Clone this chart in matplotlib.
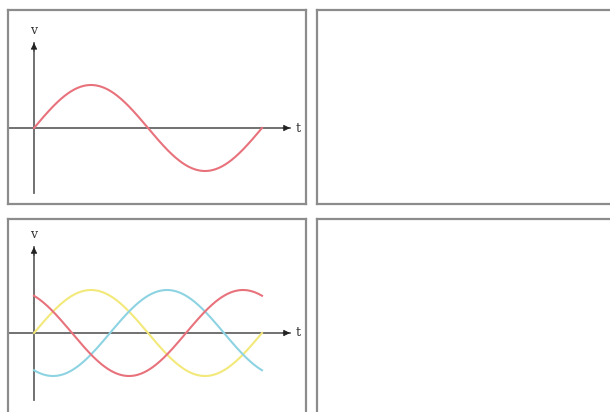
import numpy as np
import matplotlib
matplotlib.use('Agg')
from matplotlib import pyplot as plt

# one period of the waves
t = np.linspace(0, 2 * np.pi, 300)
phase_names = ["yellow", "blue", "red"]
phase_shift_deg = [0, -120, 120]
phase_colors = ['#f2e97a', '#8dd3e2', '#e8727c']
single_color = '#e8727c'

W, H = 610, 412
fig = plt.figure(figsize=(W / 100, H / 100), dpi=100)

px_per_unit_x = 228 / (2 * np.pi)
px_per_unit_y = 43.0


def box(x0, y0, x1, y1, axis_x=None, axis_y=None):
    ax = fig.add_axes([x0 / W, 1 - y1 / H, (x1 - x0) / W, (y1 - y0) / H])
    ax.set_xticks([])
    ax.set_yticks([])
    for s in ax.spines.values():
        s.set_color('#8c8c8c')
        s.set_linewidth(1.6)
    if axis_x is not None:
        ax.set_xlim((x0 - axis_x) / px_per_unit_x, (x1 - axis_x) / px_per_unit_x)
        ax.set_ylim(-(y1 - axis_y) / px_per_unit_y, (axis_y - y0) / px_per_unit_y)
    return ax


def draw_axes(ax, y_bottom, y_top, x_left, x_right):
    ax.plot([x_left, x_right], [0, 0], color='#666666', lw=1.3)
    ax.plot([0, 0], [y_bottom, y_top], color='#666666', lw=1.3)
    arrow = dict(arrowstyle='-|>', color='#222222', lw=0.5, mutation_scale=10,
                 shrinkA=0, shrinkB=0)
    ax.annotate('', xy=(x_right, 0), xytext=(x_right - 0.2, 0), arrowprops=arrow)
    ax.annotate('', xy=(0, y_top), xytext=(0, y_top - 0.2), arrowprops=arrow)
    ax.text(x_right + 0.15, 0, 't', ha='left', va='center', fontsize=9,
            family='DejaVu Serif', color='#333333')
    ax.text(-0.02, y_top + 0.28, 'v', ha='center', va='center', fontsize=9,
            family='DejaVu Serif', color='#333333')


# top left: single sine
ax1 = box(8, 10, 306, 204, axis_x=34, axis_y=128)
draw_axes(ax1, -1.52, 1.98, -0.7, (290 - 34) / px_per_unit_x)
ax1.plot(t, np.sin(t), color=single_color, lw=1.5)

# top right: empty
box(317, 10, 612, 204)

# bottom left: three phases
ax3 = box(8, 219, 306, 414, axis_x=34, axis_y=333)
draw_axes(ax3, -1.55, 2.0, -0.7, (290 - 34) / px_per_unit_x)
for shift, c in zip(phase_shift_deg, phase_colors):
    ax3.plot(t, np.sin(t + np.deg2rad(shift)), color=c, lw=1.5)

# bottom right: empty
box(317, 219, 612, 414)

plt.savefig('out.png', dpi=100)
